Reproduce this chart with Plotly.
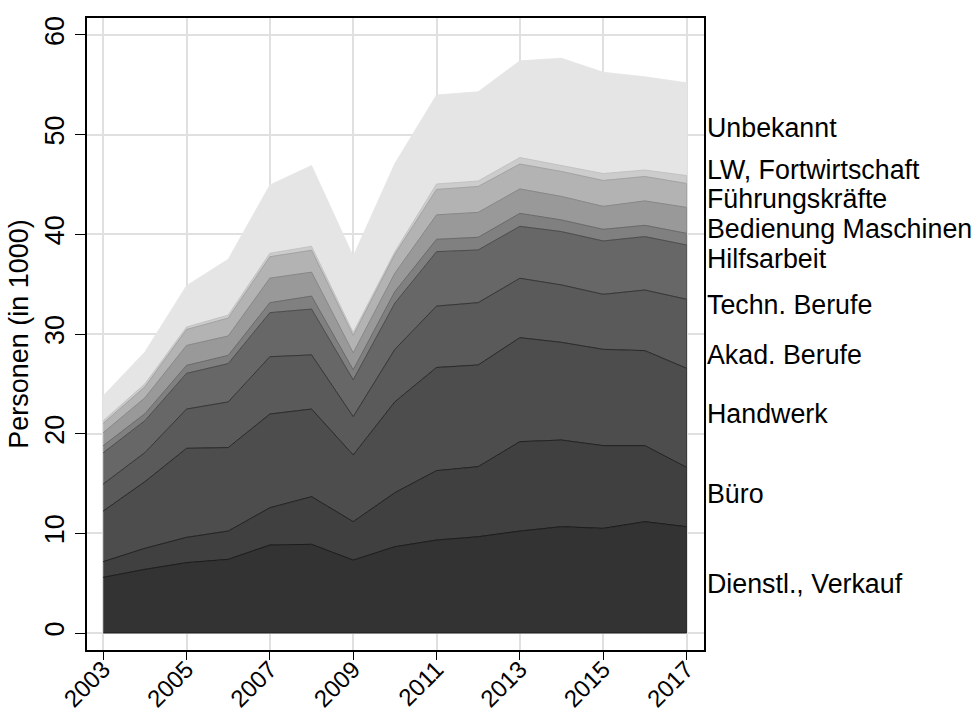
import plotly.graph_objects as go

years = list(range(2003, 2018))

categories = ["Dienstl., Verkauf", "Büro", "Handwerk", "Akad. Berufe", "Techn. Berufe",
              "Hilfsarbeit", "Bedienung Maschinen", "Führungskräfte", "LW, Fortwirtschaft", "Unbekannt"]

dienstl = [5.59, 6.39, 7.06, 7.39, 8.83, 8.90, 7.32, 8.66, 9.33, 9.66, 10.23, 10.67, 10.50, 11.17, 10.67]
buero = [1.57, 2.11, 2.54, 2.84, 3.74, 4.78, 3.85, 5.42, 6.96, 7.03, 8.97, 8.69, 8.30, 7.63, 5.95]
handwerk = [5.08, 6.68, 8.93, 8.37, 9.40, 8.79, 6.69, 9.12, 10.35, 10.20, 10.43, 9.80, 9.66, 9.53, 9.94]
akad = [2.71, 2.92, 3.94, 4.58, 5.75, 5.43, 3.84, 5.26, 6.16, 6.25, 5.96, 5.76, 5.52, 6.08, 6.92]
techn = [3.14, 3.20, 3.58, 3.85, 4.42, 4.60, 3.70, 4.64, 5.46, 5.29, 5.21, 5.35, 5.35, 5.36, 5.45]
hilfs = [0.71, 0.70, 0.80, 0.82, 1.00, 1.30, 1.00, 1.15, 1.24, 1.27, 1.30, 1.17, 1.17, 1.13, 1.17]
bedienung = [1.30, 1.60, 2.00, 1.95, 2.46, 2.40, 1.70, 1.85, 2.45, 2.50, 2.45, 2.36, 2.30, 2.45, 2.60]
fuehrung = [0.94, 1.10, 1.60, 1.80, 2.15, 2.20, 1.75, 1.90, 2.55, 2.60, 2.50, 2.50, 2.60, 2.45, 2.40]
lw = [0.26, 0.30, 0.25, 0.30, 0.35, 0.40, 0.30, 0.26, 0.55, 0.55, 0.65, 0.60, 0.70, 0.65, 0.80]
unbekannt = [2.50, 3.20, 4.15, 5.60, 6.85, 8.10, 7.65, 8.84, 8.93, 8.95, 9.70, 10.76, 10.16, 9.35, 9.30]

series = [dienstl, buero, handwerk, akad, techn, hilfs, bedienung, fuehrung, lw, unbekannt]

# label vertical positions (data units) for the right-hand labels
label_y = [4.95, 14.0, 21.95, 27.9, 32.9, 37.5, 40.5, 43.5, 46.5, 50.7]

fill_colors = ["#333333", "#404040", "#4d4d4d", "#5a5a5a", "#676767",
               "#808080", "#999999", "#b3b3b3", "#cccccc", "#e5e5e5"]
line_colors = ["#151515", "#1c1c1c", "#222222", "#2c2c2c", "#444444",
               "#626262", "#808080", "#9c9c9c", "#bcbcbc", "#e5e5e5"]

# cumulative boundaries
cum = []
running = [0.0] * len(years)
for s in series:
    running = [a + b for a, b in zip(running, s)]
    cum.append(running)

fig = go.Figure()
for i in reversed(range(len(series))):
    upper = cum[i]
    lower = cum[i - 1] if i > 0 else [0.0] * len(years)
    fig.add_trace(go.Scatter(
        x=years + years[::-1],
        y=upper + lower[::-1],
        fill="toself",
        fillcolor=fill_colors[i],
        line=dict(color=line_colors[i], width=0.8),
        mode="lines",
        name=categories[i],
        showlegend=False,
        hoverinfo="skip",
    ))

font_family = "Liberation Sans, Arial, sans-serif"
fs = 27

for name, yv in zip(categories, label_y):
    fig.add_annotation(
        x=1, xref="paper", y=yv, yref="y",
        text=name, showarrow=False, xanchor="left", yanchor="middle",
        xshift=1, font=dict(family=font_family, size=26.8, color="black"),
    )

fig.update_layout(
    width=976, height=715,
    margin=dict(l=87, r=272, t=18, b=65),
    paper_bgcolor="white", plot_bgcolor="white",
    font=dict(family=font_family, color="black"),
    showlegend=False,
)
fig.update_xaxes(
    range=[2002.61, 2017.42],
    tickvals=list(range(2003, 2018, 2)),
    ticks="outside", ticklen=8, tickwidth=1.2, tickcolor="black",
    tickangle=-45, tickfont=dict(size=24, family=font_family, color="black"),
    ticklabelstandoff=-14,
    showline=True, mirror=True, linecolor="black", linewidth=1.5,
    showgrid=True, gridcolor="#e0e0e0", gridwidth=1.5, zeroline=False,
    automargin=False,
)
fig.update_yaxes(
    range=[-1.7, 61.7],
    tickvals=list(range(0, 61, 10)),
    ticks="outside", ticklen=10, tickwidth=1.2, tickcolor="black",
    tickangle=-90, tickfont=dict(size=fs, family=font_family, color="black"),
    title=dict(text="Personen (in 1000)", font=dict(size=fs, family=font_family, color="black"), standoff=4),
    showline=True, mirror=True, linecolor="black", linewidth=1.5,
    showgrid=True, gridcolor="#e0e0e0", gridwidth=1.5, zeroline=False,
    automargin=False,
)

# remove the default 8px page margin so the 976x715 figure fills the window exactly
fig.write_html("out.html", config={"displayModeBar": False},
               post_script="document.body.style.margin='0';")
